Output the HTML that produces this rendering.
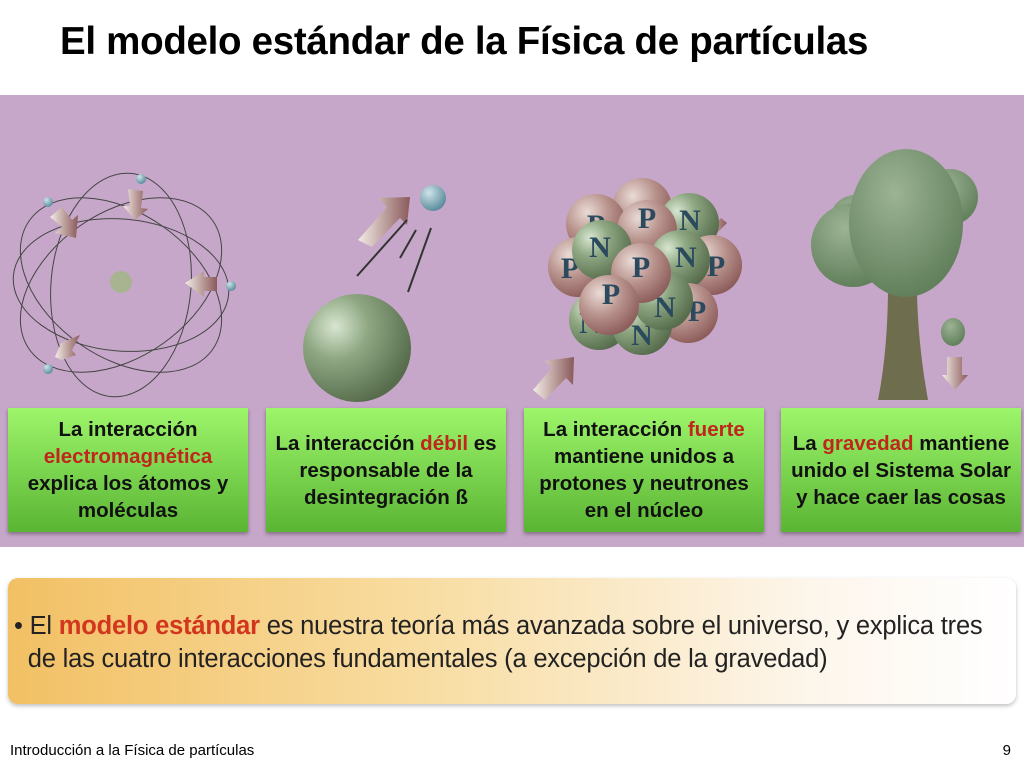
<!DOCTYPE html>
<html><head><meta charset="utf-8"><style>
body{margin:0;width:1024px;height:768px;background:#fff;position:relative;overflow:hidden;font-family:"Liberation Sans",sans-serif}
.t{position:absolute;left:60px;top:20px;font-size:38.5px;font-weight:bold;color:#000;letter-spacing:-0.3px;white-space:nowrap}
.band{position:absolute;left:0;top:95px;width:1024px;height:452px;background:#c7a7c9}
.box{position:absolute;top:408px;width:240px;height:124px;background:linear-gradient(#9df56a,#5ab534);box-shadow:0 2px 4px rgba(0,0,0,.35);display:flex;align-items:center;justify-content:center;text-align:center;font-size:20.5px;font-weight:bold;line-height:27px;color:#111}
.box div{white-space:nowrap}
.r{color:#c0261c}
.ban{position:absolute;left:8px;top:578px;width:1008px;height:126px;border-radius:10px;background:linear-gradient(90deg,#f2c064 0%,#f8dca0 40%,#fdf6ec 80%,#fff 100%);box-shadow:0 2px 4px rgba(0,0,0,.25)}
.bt{position:absolute;left:14px;top:610px;font-size:25.5px;line-height:33px;color:#222;white-space:nowrap;letter-spacing:-0.2px}
.ft{position:absolute;left:10px;top:742px;font-size:15px}
.pg{position:absolute;right:13px;top:742px;font-size:15px}
</style></head><body>
<div class="t">El modelo estándar de la Física de partículas</div>
<div class="band"></div>
<svg style="position:absolute;left:0;top:95px" width="1024" height="310">
<defs>
<radialGradient id="g" cx="30%" cy="30%" r="75%"><stop offset="0" stop-color="#d8e6d0"/><stop offset=".4" stop-color="#8fa883"/><stop offset="1" stop-color="#566c4c"/></radialGradient>
<radialGradient id="p" cx="35%" cy="30%" r="75%"><stop offset="0" stop-color="#eadbd6"/><stop offset=".5" stop-color="#b8928c"/><stop offset="1" stop-color="#8a5a58"/></radialGradient>
<radialGradient id="b" cx="35%" cy="30%" r="70%"><stop offset="0" stop-color="#cfe3ea"/><stop offset="1" stop-color="#5d8e9e"/></radialGradient>
<radialGradient id="tr" cx="40%" cy="30%" r="70%"><stop offset="0" stop-color="#9cb394"/><stop offset="1" stop-color="#62805c"/></radialGradient>
<linearGradient id="ar" x1="0" y1="0" x2="1" y2="0"><stop offset="0" stop-color="#f3ece6"/><stop offset="1" stop-color="#8a5a5a"/></linearGradient>
</defs>
<g fill="none" stroke="#444" stroke-width="1">
<ellipse cx="121" cy="190" rx="112" ry="72" transform="rotate(35 121 190)"/>
<ellipse cx="121" cy="190" rx="112" ry="72" transform="rotate(-35 121 190)"/>
<ellipse cx="121" cy="190" rx="112" ry="70" transform="rotate(95 121 190)"/>
<ellipse cx="121" cy="190" rx="108" ry="66" transform="rotate(5 121 190)"/>
</g>
<circle cx="121" cy="187" r="11" fill="#a7b48f"/>
<g fill="url(#b)"><circle cx="141" cy="84" r="5"/><circle cx="48" cy="107" r="5"/><circle cx="231" cy="191" r="5"/><circle cx="48" cy="274" r="5"/></g>
<g fill="url(#ar)">
<polygon points="50,122 62,112 72,125 78,120 76,143 55,138 62,132"/>
<polygon points="128,94 143,96 141,113 148,114 135,125 123,111 130,111"/>
<polygon points="217,182 217,196 204,196 204,202 185,188 204,176 204,182"/>
<polygon points="55,262 61,248 68,245 80,240 72,255 76,260 62,265"/>
<polygon points="358,145 387,112 378,103 410,102 407,130 400,123 372,152"/>
<polygon points="727,128 712,143 718,150 698,152 700,132 706,138 721,123"/>
<polygon points="533,295 552,273 545,266 574,262 573,290 566,283 545,305"/>
<polygon points="947,262 962,262 962,280 968,280 955,295 942,280 947,280"/>
</g>
<circle cx="433" cy="103" r="13" fill="url(#b)"/>
<g stroke="#333" stroke-width="2"><line x1="357" y1="181" x2="407" y2="125"/><line x1="400" y1="163" x2="416" y2="135"/><line x1="408" y1="197" x2="431" y2="133"/></g>
<circle cx="357" cy="253" r="54" fill="url(#g)"/>
<circle cx="855" cy="125" r="25" fill="url(#tr)"/><circle cx="950" cy="102" r="28" fill="url(#tr)"/>
<path d="M878,305 L928,305 C920,260 917,220 917,190 L888,190 C888,230 885,270 878,305Z" fill="#6e6d4e"/>
<circle cx="853" cy="150" r="42" fill="url(#tr)"/>
<ellipse cx="906" cy="128" rx="57" ry="74" fill="url(#tr)"/>
<ellipse cx="953" cy="237" rx="12" ry="14" fill="url(#tr)"/>
<g font-family="Liberation Serif,serif" font-weight="bold" font-size="30" fill="#2b4a5e" text-anchor="middle">
<circle cx="642" cy="113" r="30" fill="url(#p)"/><text x="642" y="130">P</text>
<circle cx="596" cy="129" r="30" fill="url(#p)"/><text x="596" y="140">P</text>
<circle cx="689" cy="128" r="30" fill="url(#g)"/><text x="690" y="135">N</text>
<circle cx="578" cy="172" r="30" fill="url(#p)"/><text x="570" y="183">P</text>
<circle cx="712" cy="170" r="30" fill="url(#p)"/><text x="716" y="181">P</text>
<circle cx="647" cy="135" r="30" fill="url(#p)"/><text x="647" y="133">P</text>
<circle cx="602" cy="155" r="30" fill="url(#g)"/><text x="600" y="162">N</text>
<circle cx="680" cy="165" r="30" fill="url(#g)"/><text x="686" y="172">N</text>
<circle cx="599" cy="225" r="30" fill="url(#g)"/><text x="590" y="238">N</text>
<circle cx="688" cy="218" r="30" fill="url(#p)"/><text x="697" y="226">P</text>
<circle cx="642" cy="230" r="30" fill="url(#g)"/><text x="642" y="250">N</text>
<circle cx="663" cy="205" r="30" fill="url(#g)"/><text x="665" y="222">N</text>
<circle cx="641" cy="178" r="30" fill="url(#p)"/><text x="641" y="182">P</text>
<circle cx="609" cy="210" r="30" fill="url(#p)"/><text x="611" y="209">P</text>
</g>
</svg>
<div class="box" style="left:8px"><div>La interacción<br><span class="r">electromagnética</span><br>explica los átomos y<br>moléculas</div></div>
<div class="box" style="left:266px"><div>La interacción <span class="r">débil</span> es<br>responsable de la<br>desintegración ß</div></div>
<div class="box" style="left:524px"><div>La interacción <span class="r">fuerte</span><br>mantiene unidos a<br>protones y neutrones<br>en el núcleo</div></div>
<div class="box" style="left:781px"><div>La <span class="r">gravedad</span> mantiene<br>unido el Sistema Solar<br>y hace caer las cosas</div></div>
<div class="ban"></div>
<div class="bt">• El <b style="color:#d2361e">modelo estándar</b> es nuestra teoría más avanzada sobre el universo, y explica tres<br>&nbsp;&nbsp;de las cuatro interacciones fundamentales (a excepción de la gravedad)</div>
<div class="ft">Introducción a la Física de partículas</div>
<div class="pg">9</div>
</body></html>
